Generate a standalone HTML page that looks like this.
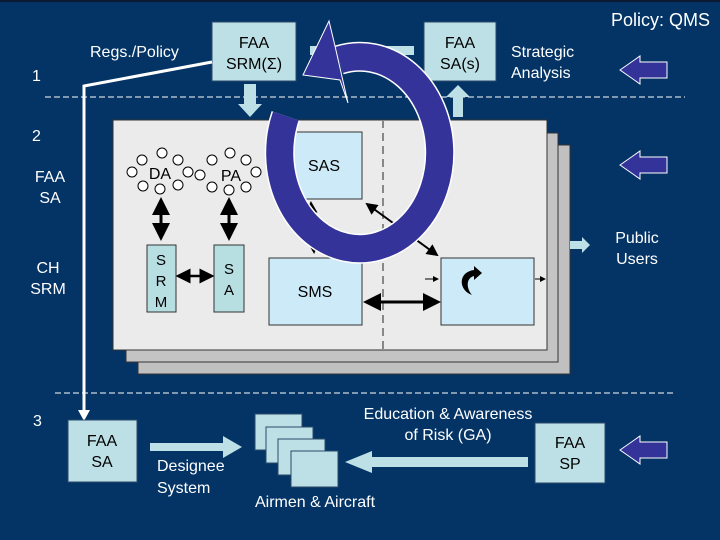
<!DOCTYPE html>
<html><head><style>
html,body{margin:0;padding:0;background:#033465;}
svg{display:block;font-family:"Liberation Sans",sans-serif;}
</style></head><body>
<svg width="720" height="540" viewBox="0 0 720 540">
<defs>
<marker id="ah" markerWidth="6" markerHeight="6" refX="5" refY="3" orient="auto-start-reverse" markerUnits="strokeWidth"><path d="M0,0 L6,3 L0,6 z" fill="#000"/></marker>
</defs>
<rect width="720" height="540" fill="#033465"/>
<line x1="0" y1="1" x2="720" y2="1" stroke="#0a1a30" stroke-width="2"/>
<text x="710" y="26" font-size="18" fill="#fff" text-anchor="end">Policy: QMS</text>
<text x="90" y="57" font-size="16" fill="#fff">Regs./Policy</text>
<text x="32" y="81" font-size="16" fill="#fff">1</text>
<text x="32" y="141" font-size="16" fill="#fff">2</text>
<text x="33" y="426" font-size="16" fill="#fff">3</text>
<text x="50" y="182" font-size="16" fill="#fff" text-anchor="middle">FAA</text>
<text x="50" y="203" font-size="16" fill="#fff" text-anchor="middle">SA</text>
<text x="48" y="273" font-size="16" fill="#fff" text-anchor="middle">CH</text>
<text x="48" y="294" font-size="16" fill="#fff" text-anchor="middle">SRM</text>
<text x="511" y="57" font-size="16" fill="#fff">Strategic</text>
<text x="511" y="78" font-size="16" fill="#fff">Analysis</text>
<line x1="45" y1="97" x2="685" y2="97" stroke="#fff" stroke-width="1" stroke-dasharray="6,3"/>
<line x1="55" y1="393" x2="675" y2="393" stroke="#fff" stroke-width="1" stroke-dasharray="6,3"/>
<rect x="212" y="22" width="84" height="59" fill="#bde0e6" stroke="#2a4a6a"/>
<text x="254" y="48" font-size="16" text-anchor="middle">FAA</text>
<text x="254" y="69" font-size="16" text-anchor="middle">SRM(Σ)</text>
<rect x="424" y="22" width="72" height="59" fill="#bde0e6" stroke="#2a4a6a"/>
<text x="460" y="48" font-size="16" text-anchor="middle">FAA</text>
<text x="460" y="69" font-size="16" text-anchor="middle">SA(s)</text>
<rect x="310" y="46" width="104" height="9" fill="#bde0e6"/>
<polygon points="244,84 256,84 256,104 262,104 250,117 238,104 244,104" fill="#bde0e6"/>
<polygon points="453,117 463,117 463,97 470,97 458,85 446,97 453,97" fill="#bde0e6"/>
<polyline points="212,62 84,86 84,412" fill="none" stroke="#fff" stroke-width="3"/>
<polygon points="78,410 90,410 84,421" fill="#fff"/>
<rect x="138" y="145" width="432" height="229" fill="#c0c0c0" stroke="#333"/>
<rect x="126" y="133" width="432" height="229" fill="#c4c4c4" stroke="#333"/>
<rect x="113" y="120" width="434" height="230" fill="#ebebeb" stroke="#333"/>
<line x1="383" y1="120" x2="383" y2="350" stroke="#888" stroke-width="2" stroke-dasharray="8,5"/>
<g fill="#fff" stroke="#000" stroke-width="1">
<circle cx="142" cy="160" r="5"/><circle cx="162" cy="153" r="5"/><circle cx="178" cy="160" r="5"/><circle cx="188" cy="172" r="5"/><circle cx="178" cy="185" r="5"/><circle cx="160" cy="189" r="5"/><circle cx="143" cy="186" r="5"/><circle cx="132" cy="172" r="5"/>
<circle cx="212" cy="160" r="5"/><circle cx="230" cy="153" r="5"/><circle cx="246" cy="160" r="5"/><circle cx="256" cy="172" r="5"/><circle cx="246" cy="187" r="5"/><circle cx="229" cy="190" r="5"/><circle cx="212" cy="187" r="5"/><circle cx="200" cy="175" r="5"/>
</g>
<text x="160" y="179" font-size="16" text-anchor="middle">DA</text>
<text x="231" y="181" font-size="16" text-anchor="middle">PA</text>
<rect x="147" y="245" width="29" height="67" fill="#b7dfe2" stroke="#333"/>
<text x="161" y="265" font-size="15" text-anchor="middle">S</text>
<text x="161" y="286" font-size="15" text-anchor="middle">R</text>
<text x="161" y="307" font-size="15" text-anchor="middle">M</text>
<rect x="214" y="245" width="30" height="67" fill="#b7dfe2" stroke="#333"/>
<text x="229" y="274" font-size="15" text-anchor="middle">S</text>
<text x="229" y="295" font-size="15" text-anchor="middle">A</text>
<g stroke="#000" stroke-width="3" fill="none">
<line x1="161" y1="200" x2="161" y2="238" marker-start="url(#ah)" marker-end="url(#ah)"/>
<line x1="229" y1="200" x2="229" y2="238" marker-start="url(#ah)" marker-end="url(#ah)"/>
<line x1="178" y1="276" x2="212" y2="276" stroke-width="2.5" marker-start="url(#ah)" marker-end="url(#ah)"/>
<line x1="366" y1="302" x2="438" y2="302" marker-start="url(#ah)" marker-end="url(#ah)"/>
<line x1="367" y1="204" x2="437" y2="255" stroke-width="2" marker-start="url(#ah)" marker-end="url(#ah)"/>
<line x1="311" y1="203" x2="314" y2="252" stroke-width="2" marker-start="url(#ah)" marker-end="url(#ah)"/>
<line x1="425" y1="279" x2="438" y2="279" stroke-width="1" marker-end="url(#ah)"/>
<line x1="535" y1="279" x2="545" y2="279" stroke-width="1" marker-end="url(#ah)"/>
</g>
<rect x="269" y="258" width="93" height="67" fill="#cdeaf8" stroke="#333"/>
<text x="315" y="297" font-size="16" text-anchor="middle">SMS</text>
<rect x="441" y="258" width="93" height="67" fill="#cdeaf8" stroke="#333"/>
<path d="M472,295 C458,290 458,272 474,270 L474,266 L482,273 L474,280 L474,276 C466,278 466,288 472,295 z" fill="#000"/>
<rect x="293" y="132" width="69" height="67" fill="#cdeaf8" stroke="#333"/>
<text x="324" y="171" font-size="16" text-anchor="middle">SAS</text>
<path d="M339,60 A80,96 0 1 1 285.8,116" fill="none" stroke="#fff" stroke-width="30"/>
<path d="M339,60 A80,96 0 1 1 285.8,116" fill="none" stroke="#333399" stroke-width="27"/>
<polygon points="303,75 329,21 335,46 348,103 340,80" fill="#333399" stroke="#fff" stroke-width="1"/>
<polygon points="570,241 582,241 582,237 590,245 582,253 582,249 570,249" fill="#bde0e6"/>
<text x="637" y="243" font-size="16" fill="#fff" text-anchor="middle">Public</text>
<text x="637" y="264" font-size="16" fill="#fff" text-anchor="middle">Users</text>
<g fill="#333399" stroke="#fff" stroke-width="1">
<polygon points="620,70 640,56 640,62 667,62 667,78 640,78 640,84"/>
<polygon points="620,165 640,151 640,157 667,157 667,173 640,173 640,179"/>
<polygon points="620,450 640,436 640,442 667,442 667,458 640,458 640,464"/>
</g>
<rect x="68" y="420" width="69" height="62" fill="#bde0e6" stroke="#2a4a6a"/>
<text x="102" y="446" font-size="16" text-anchor="middle">FAA</text>
<text x="102" y="467" font-size="16" text-anchor="middle">SA</text>
<polygon points="150,443 223,443 223,436 242,447 223,458 223,451 150,451" fill="#bde0e6"/>
<text x="157" y="471" font-size="16" fill="#fff">Designee</text>
<text x="157" y="493" font-size="16" fill="#fff">System</text>
<g fill="#bde0e6" stroke="#2a4a6a">
<rect x="255" y="414" width="47" height="36"/>
<rect x="266" y="427" width="47" height="36"/>
<rect x="278" y="439" width="47" height="36"/>
<rect x="291" y="451" width="47" height="36"/>
</g>
<text x="315" y="507" font-size="16" fill="#fff" text-anchor="middle">Airmen &amp; Aircraft</text>
<polygon points="345,462 372,451 372,457 528,457 528,467 372,467 372,473" fill="#bde0e6"/>
<text x="448" y="419" font-size="16" fill="#fff" text-anchor="middle">Education &amp; Awareness</text>
<text x="448" y="440" font-size="16" fill="#fff" text-anchor="middle">of Risk (GA)</text>
<rect x="535" y="423" width="70" height="60" fill="#bde0e6" stroke="#2a4a6a"/>
<text x="570" y="448" font-size="16" text-anchor="middle">FAA</text>
<text x="570" y="469" font-size="16" text-anchor="middle">SP</text>
</svg>
</body></html>
